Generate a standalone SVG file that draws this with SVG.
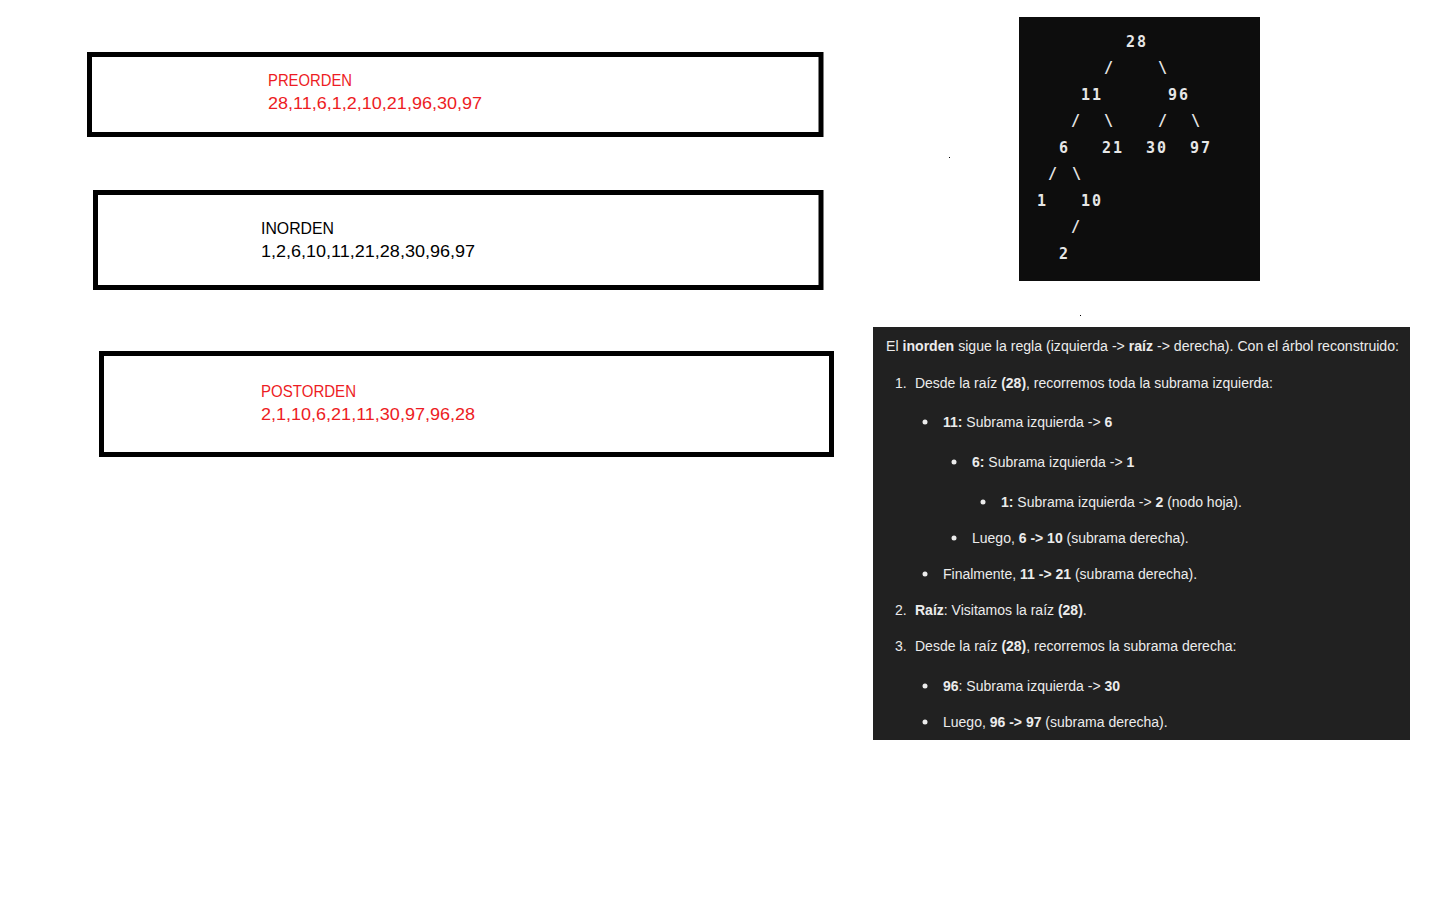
<svg xmlns="http://www.w3.org/2000/svg" width="1440" height="900" viewBox="0 0 1440 900">
<style>
.box{fill:#fff;stroke:#000;stroke-width:5}
.lbl{font-family:"Liberation Sans",Arial,sans-serif;font-size:17px}
.red{fill:#ED1C24}
.blk{fill:#000}
.tree{font-family:"DejaVu Sans Mono","Liberation Mono",monospace;font-size:15px;font-weight:bold;fill:#e6e6e6;letter-spacing:2px}
.p{font-family:"Liberation Sans",Arial,sans-serif;font-size:14px;fill:#ececec}
.b{font-weight:bold}
.dot{fill:#ececec}
</style>
<rect width="1440" height="900" fill="#fff"/>
<g id="preorden">
<rect class="box" x="89.5" y="54.5" width="731.5" height="80"/>
<text class="lbl red" x="268" y="86" textLength="84" lengthAdjust="spacingAndGlyphs">PREORDEN</text>
<text class="lbl red" x="268" y="109" textLength="214" lengthAdjust="spacingAndGlyphs">28,11,6,1,2,10,21,96,30,97</text>
</g>
<g id="inorden">
<rect class="box" x="95.5" y="192.5" width="725.5" height="95"/>
<text class="lbl blk" x="261" y="234" textLength="73" lengthAdjust="spacingAndGlyphs">INORDEN</text>
<text class="lbl blk" x="261" y="257" textLength="214" lengthAdjust="spacingAndGlyphs">1,2,6,10,11,21,28,30,96,97</text>
</g>
<g id="postorden">
<rect class="box" x="101.5" y="353.5" width="730" height="101"/>
<text class="lbl red" x="261" y="397" textLength="95" lengthAdjust="spacingAndGlyphs">POSTORDEN</text>
<text class="lbl red" x="261" y="420" textLength="214" lengthAdjust="spacingAndGlyphs">2,1,10,6,21,11,30,97,96,28</text>
</g>
<g id="tree">
<rect x="1019" y="17" width="241" height="264" fill="#0d0d0d"/>
<text class="tree" x="1126" y="47">28</text>
<text class="tree" x="1104" y="73">/</text>
<text class="tree" x="1158" y="73">\</text>
<text class="tree" x="1081" y="100">11</text>
<text class="tree" x="1168" y="100">96</text>
<text class="tree" x="1071" y="126">/</text>
<text class="tree" x="1104" y="126">\</text>
<text class="tree" x="1158" y="126">/</text>
<text class="tree" x="1191" y="126">\</text>
<text class="tree" x="1059" y="153">6</text>
<text class="tree" x="1102" y="153">21</text>
<text class="tree" x="1146" y="153">30</text>
<text class="tree" x="1190" y="153">97</text>
<text class="tree" x="1048" y="179">/</text>
<text class="tree" x="1072" y="179">\</text>
<text class="tree" x="1037" y="206">1</text>
<text class="tree" x="1081" y="206">10</text>
<text class="tree" x="1071" y="232">/</text>
<text class="tree" x="1059" y="259">2</text>
</g>
<rect x="949" y="157" width="1" height="1" fill="#000"/>
<rect x="1080" y="315" width="1" height="1" fill="#000"/>
<g id="explanation">
<rect x="873" y="327" width="537" height="413" fill="#212121"/>
<text class="p" x="886" y="351" textLength="513" lengthAdjust="spacingAndGlyphs">El <tspan class="b">inorden</tspan> sigue la regla (izquierda -&gt; <tspan class="b">raíz</tspan> -&gt; derecha). Con el árbol reconstruido:</text>
<text class="p" x="895" y="388">1.</text>
<text class="p" x="915" y="388" textLength="358" lengthAdjust="spacingAndGlyphs">Desde la raíz <tspan class="b">(28)</tspan>, recorremos toda la subrama izquierda:</text>
<circle class="dot" cx="925" cy="422" r="2.5"/>
<text class="p" x="943" y="427"><tspan class="b">11:</tspan> Subrama izquierda -&gt; <tspan class="b">6</tspan></text>
<circle class="dot" cx="954" cy="462" r="2.5"/>
<text class="p" x="972" y="467"><tspan class="b">6:</tspan> Subrama izquierda -&gt; <tspan class="b">1</tspan></text>
<circle class="dot" cx="983" cy="502" r="2.5"/>
<text class="p" x="1001" y="507"><tspan class="b">1:</tspan> Subrama izquierda -&gt; <tspan class="b">2</tspan> (nodo hoja).</text>
<circle class="dot" cx="954" cy="538" r="2.5"/>
<text class="p" x="972" y="543">Luego, <tspan class="b">6 -&gt; 10</tspan> (subrama derecha).</text>
<circle class="dot" cx="925" cy="574" r="2.5"/>
<text class="p" x="943" y="579">Finalmente, <tspan class="b">11 -&gt; 21</tspan> (subrama derecha).</text>
<text class="p" x="895" y="615">2.</text>
<text class="p" x="915" y="615"><tspan class="b">Raíz</tspan>: Visitamos la raíz <tspan class="b">(28)</tspan>.</text>
<text class="p" x="895" y="651">3.</text>
<text class="p" x="915" y="651">Desde la raíz <tspan class="b">(28)</tspan>, recorremos la subrama derecha:</text>
<circle class="dot" cx="925" cy="686" r="2.5"/>
<text class="p" x="943" y="691"><tspan class="b">96</tspan>: Subrama izquierda -&gt; <tspan class="b">30</tspan></text>
<circle class="dot" cx="925" cy="722" r="2.5"/>
<text class="p" x="943" y="727">Luego, <tspan class="b">96 -&gt; 97</tspan> (subrama derecha).</text>
</g>
</svg>
